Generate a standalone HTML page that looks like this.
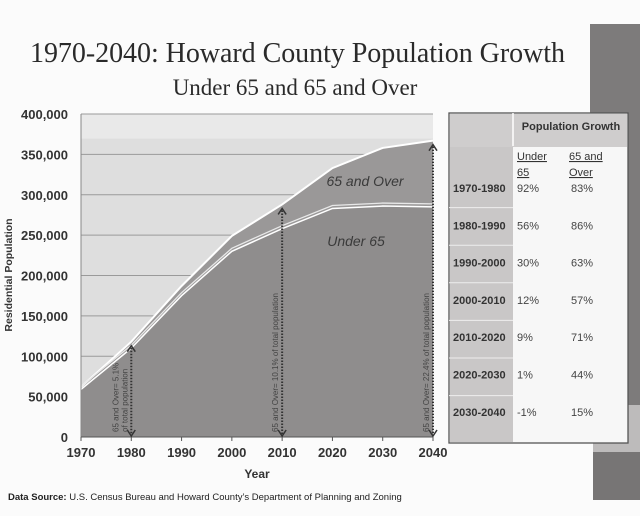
<!DOCTYPE html>
<html><head><meta charset="utf-8"><style>
html,body{margin:0;padding:0;background:#fff}
svg{display:block}
text{font-family:"Liberation Sans",sans-serif}
.serif{font-family:"Liberation Serif",serif}
</style></head><body>
<svg id="chart" width="640" height="516" viewBox="0 0 640 516">
<rect x="0" y="0" width="640" height="516" fill="#fbfbfb"/>
<rect x="590" y="24" width="50" height="381" fill="#7d7b7b"/>
<rect x="593" y="405" width="47" height="47" fill="#bdbbbb"/>
<rect x="593" y="452" width="47" height="48" fill="#777575"/>
<text class="serif" x="30" y="62" font-size="28" textLength="535" fill="#2a2a2a">1970-2040: Howard County Population Growth</text>
<text class="serif" x="295" y="95" font-size="23" text-anchor="middle" fill="#2a2a2a">Under 65 and 65 and Over</text>
<g id="plot"></g>
<text x="12" y="275" font-size="10.5" font-weight="bold" fill="#333" transform="rotate(-90 12 275)" text-anchor="middle">Residential  Population</text>
<text x="257" y="478" font-size="12" font-weight="bold" fill="#333" text-anchor="middle">Year</text>
<text x="8" y="500" font-size="9.5" fill="#222"><tspan font-weight="bold">Data Source:</tspan> U.S. Census Bureau and Howard County’s Department of Planning and Zoning</text>
<g id="table"></g>
</svg>
<script>
const years=[1970,1980,1990,2000,2010,2020,2030,2040];
const totalPop=[62000,118000,187000,249000,288000,333000,358000,367000];
const under65Pop=[59000,110000,175000,230000,258000,283000,286000,285000];
const yTicks=[0,50000,100000,150000,200000,250000,300000,350000,400000];
const yTickLabels=["0","50,000","100,000","150,000","200,000","250,000","300,000","350,000","400,000"];
const periods=["1970-1980","1980-1990","1990-2000","2000-2010","2010-2020","2020-2030","2030-2040"];
const growthUnder=["92%","56%","30%","12%","9%","1%","-1%"];
const growthOver=["83%","86%","63%","57%","71%","44%","15%"];
const arrowYears=[1980,2010,2040];
const arrowLabels=[["65 and Over= 5.1%","of total population"],["65 and Over= 10.1% of total population"],["65 and Over= 22.4% of total population"]];

const NS="http://www.w3.org/2000/svg";
const X0=81,X1=433,Y0=437,Y1=114;
const xs=y=>X0+(y-1970)/(2040-1970)*(X1-X0);
const ys=v=>Y0-v/400000*(Y0-Y1);
function mk(tag,attrs,parent){const e=document.createElementNS(NS,tag);for(const k in attrs)e.setAttribute(k,attrs[k]);parent.appendChild(e);return e;}
const plot=document.getElementById('plot');
let e;
e=mk('rect',{x:X0,y:Y1,width:X1-X0,height:Y0-Y1,fill:'#e9e9e9'},plot);


e=mk('rect',{x:X0,y:ys(367000)-2,width:X1-X0,height:Y0-ys(367000)+2,fill:'#dedede'},plot);


yTicks.forEach((t,i)=>{
  if(i>0){e=mk('line',{x1:X0,x2:X1,y1:ys(t),y2:ys(t),stroke:'#9a9a9a','stroke-width':1},plot);
  
  }
  e=mk('text',{x:X0-13,y:ys(t)+5,'font-size':13,'font-weight':'bold','text-anchor':'end',fill:'#333'},plot);
  e.textContent=yTickLabels[i];
  
  
});
function areaPath(top,bottom){
  let d='M'+xs(years[0])+','+ys(top[0]);
  for(let i=1;i<years.length;i++)d+=' L'+xs(years[i])+','+ys(top[i]);
  for(let i=years.length-1;i>=0;i--)d+=' L'+xs(years[i])+','+ys(bottom?bottom[i]:0);
  return d+'Z';
}
function linePath(v,off){let d='';years.forEach((y,i)=>{d+=(i?' L':'M')+xs(y)+','+(ys(v[i])+off);});return d;}
e=mk('path',{d:areaPath(totalPop,under65Pop),fill:'#9a9898'},plot);


e=mk('path',{d:areaPath(under65Pop,null),fill:'#8f8d8d'},plot);


e=mk('path',{d:linePath(totalPop,0),fill:'none',stroke:'#fff','stroke-width':2},plot);


e=mk('path',{d:linePath(under65Pop,-3),fill:'none',stroke:'#e8e8e8','stroke-width':1.3},plot);


e=mk('path',{d:linePath(under65Pop,0),fill:'none',stroke:'#fff','stroke-width':1.5},plot);


e=mk('line',{x1:X0,x2:X0,y1:Y1,y2:Y0,stroke:'#888'},plot);


e=mk('line',{x1:X0,x2:X1,y1:Y0,y2:Y0,stroke:'#555'},plot);


years.forEach(y=>{
  e=mk('line',{x1:xs(y),x2:xs(y),y1:Y0,y2:Y0+4,stroke:'#555'},plot);
  
  
  e=mk('text',{x:xs(y),y:Y0+20,'font-size':13,'font-weight':'bold','text-anchor':'middle',fill:'#333'},plot);
  e.textContent=y;
  
  
});
e=mk('text',{x:365,y:186,'font-size':14,'font-style':'italic',fill:'#3a3a3a','text-anchor':'middle'},plot);
e.textContent='65 and Over';


e=mk('text',{x:356,y:246,'font-size':14,'font-style':'italic',fill:'#3a3a3a','text-anchor':'middle'},plot);
e.textContent='Under 65';


arrowYears.forEach((y,i)=>{
  const xi=years.indexOf(y),x=xs(y),top=ys(totalPop[xi])+4;
  e=mk('line',{x1:x,x2:x,y1:top+2,y2:Y0-3,stroke:'#333','stroke-width':2,'stroke-dasharray':'1.5,1.5'},plot);
  
  
  e=mk('path',{d:`M${x-4},${top+6} L${x},${top} L${x+4},${top+6} M${x-4},${Y0-7} L${x},${Y0-1} L${x+4},${Y0-7}`,fill:'none',stroke:'#333','stroke-width':1.5},plot);
  
  
  const lines=arrowLabels[i];
  const baseX=x-4-(lines.length-1)*9;
  const g=mk('g',{transform:`translate(${baseX},${Y0-5}) rotate(-90)`},plot);
  
  
  lines.forEach((ln,j)=>{
    e=mk('text',{x:0,y:j*9,'font-size':8,fill:'#444'},g);
    e.textContent=ln;
    
    
  });
});
// table
const tb=document.getElementById('table');
const TX=449,TY=113,TW=179,TH=330,LC=64,HR=33,RH=37.6,R0=170;
e=mk('rect',{x:TX,y:TY,width:TW,height:TH,fill:'#f7f7f7',stroke:'#555','stroke-width':1.3},tb);


e=mk('rect',{x:TX+1,y:TY+1,width:LC-1,height:TH-2,fill:'#c9c7c7'},tb);


e=mk('rect',{x:TX+1,y:TY+1,width:TW-2,height:HR,fill:'#cfcdcd'},tb);


e=mk('line',{x1:TX+LC,x2:TX+LC,y1:TY,y2:TY+HR,stroke:'#fff','stroke-width':1.5},tb);


e=mk('text',{x:TX+LC+58,y:TY+17,'font-size':11,'font-weight':'bold',fill:'#333','text-anchor':'middle'},tb);
e.textContent='Population Growth';


[['Under','65',TX+LC+4],['65 and','Over',TX+LC+56]].forEach(h=>{
  e=mk('text',{x:h[2],y:TY+47,'font-size':11,fill:'#333','text-decoration':'underline'},tb);
  e.textContent=h[0];
  
  
  e=mk('text',{x:h[2],y:TY+63,'font-size':11,fill:'#333','text-decoration':'underline'},tb);
  e.textContent=h[1];
  
  
});
periods.forEach((p,i)=>{
  const yTop=R0+i*RH;
  if(i>0){e=mk('line',{x1:TX,x2:TX+LC,y1:yTop,y2:yTop,stroke:'#eee','stroke-width':1},tb);
  
  }
  const by=yTop+22-i*0.3;
  e=mk('text',{x:TX+4,y:by,'font-size':11,'font-weight':'bold',fill:'#333'},tb);
  e.textContent=p;
  
  
  e=mk('text',{x:TX+LC+4,y:by,'font-size':11,fill:'#444'},tb);
  e.textContent=growthUnder[i];
  
  
  e=mk('text',{x:TX+LC+58,y:by,'font-size':11,fill:'#444'},tb);
  e.textContent=growthOver[i];
  
  
});
</script>
</body></html>
